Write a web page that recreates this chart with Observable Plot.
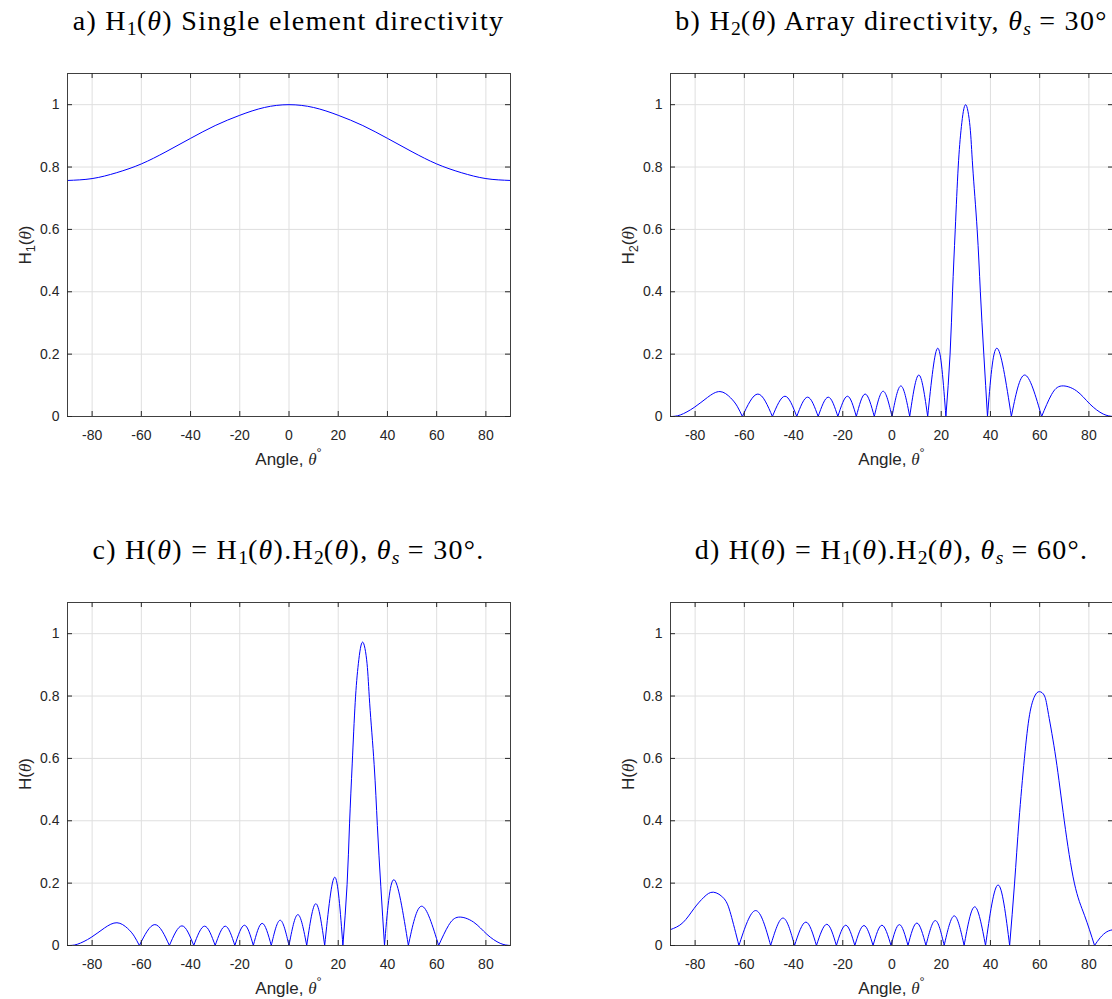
<!DOCTYPE html>
<html>
<head>
<meta charset="utf-8">
<script src="https://cdn.jsdelivr.net/npm/d3@7"></script>
<script src="https://cdn.jsdelivr.net/npm/@observablehq/plot@0.6"></script>
<style>
  body { margin: 0; background: #fff; }
  #root { position: relative; width: 1112px; height: 999px; overflow: hidden; background: #fff; }
  .panel { position: absolute; width: 556px; }
  .panel svg { max-width: none !important; }
  .title { position: absolute; width: 700px; text-align: center; font-family: "Liberation Serif", "DejaVu Serif", serif; font-size: 28px; letter-spacing: 1.3px; line-height: 34px; color: #000; white-space: nowrap; }
  .title sub { font-size: 70%; vertical-align: -0.25em; line-height: 0; letter-spacing: 0; }
  .xlab { position: absolute; width: 300px; text-align: center; font-family: "Liberation Sans", Arial, sans-serif; font-size: 17px; line-height: 20px; color: #262626; white-space: nowrap; }
  .ylab { position: absolute; font-family: "Liberation Sans", Arial, sans-serif; font-size: 17px; line-height: 20px; color: #262626; white-space: nowrap; transform: translate(-50%, -50%) rotate(-90deg); }
  .ylab sub { font-size: 75%; vertical-align: -0.3em; line-height: 0; }
  .th { font-family: "Liberation Serif", serif; font-style: italic; }
  .deg { font-size: 75%; vertical-align: 0.6em; line-height: 0; }
</style>
</head>
<body>
<div id="root"></div>
<script>
// ---- tick values ----
const xTicks = [-80, -60, -40, -20, 0, 20, 40, 60, 80];
const yTicks = [0, 0.2, 0.4, 0.6, 0.8, 1];

// ---- a) H1(theta), single element ----
const h1Angle = [-90, -80, -70, -60, -50, -40, -30, -20, -10, 0, 10, 20, 30, 40, 50, 60, 70, 80, 90];
const h1Value = [0.757, 0.763, 0.782, 0.810, 0.849, 0.892, 0.933, 0.966, 0.991, 1.0, 0.991, 0.966, 0.933, 0.892, 0.849, 0.810, 0.782, 0.763, 0.757];

// ---- b) H2(theta), array, steer 30 ----
const h2Angle = [-90, -86, -80.4, -75, -69.9, -65.6, -62.9, -60.8, -54.5, -48.6, -43.5, -38.7, -34.3, -30, -25.9, -22, -18.1, -14.5, -10.9, -7.2, -3.6, 0, 3.6, 7.2, 10.9, 14.5, 18.6, 21.9,
  23.6, 24.6, 25.7, 26.9, 28.2, 29.9, 31.7, 32.8, 34.6, 35.9, 37.3, 38.8, 42.6, 48.5, 53.9, 60.8, 64.8, 68.9, 75, 80.4, 85.8, 90];
const h2Value = [0, 0.005, 0.029, 0.061, 0.080, 0.060, 0.033, 0, 0.072, 0, 0.065, 0, 0.062, 0, 0.062, 0, 0.065, 0, 0.072, 0, 0.081, 0, 0.098, 0, 0.133, 0, 0.219, 0,
  0.2, 0.4, 0.6, 0.8, 0.93, 1.0, 0.93, 0.8, 0.6, 0.4, 0.2, 0, 0.219, 0, 0.133, 0, 0.070, 0.098, 0.082, 0.040, 0.008, 0];

// ---- c) H = H1.H2, steer 30 ----
const h30Angle = [-90, -86, -80.4, -75, -69.9, -65.6, -62.9, -60.8, -54.5, -48.6, -43.5, -38.7, -34.3, -30, -25.9, -22, -18.1, -14.5, -10.9, -7.2, -3.6, 0, 3.6, 7.2, 10.9, 14.5, 18.6, 21.9,
  23.6, 24.6, 25.7, 26.9, 28.2, 29.9, 31.7, 32.8, 34.6, 35.9, 37.3, 38.8, 42.6, 48.5, 53.9, 60.8, 64.8, 68.9, 75, 80.4, 85.8, 90];
const h30Value = [0, 0.004, 0.026, 0.056, 0.073, 0.055, 0.030, 0, 0.067, 0, 0.063, 0, 0.062, 0, 0.062, 0, 0.065, 0, 0.071, 0, 0.081, 0, 0.099, 0, 0.134, 0, 0.219, 0,
  0.195, 0.39, 0.585, 0.78, 0.905, 0.973, 0.905, 0.775, 0.58, 0.385, 0.19, 0, 0.211, 0, 0.126, 0, 0.064, 0.091, 0.075, 0.036, 0.007, 0];

// ---- d) H = H1.H2, steer 60 ----
const h60Angle = [-90, -85, -80.4, -76.4, -72.6, -68.2, -65.5, -62.2, -55.4, -49.3, -44.3, -39.6, -35.0, -30.7, -26.5, -22.6, -18.8, -15.1, -11.4, -7.7, -4.1, -0.4, 3.0, 6.5, 10.1, 13.8, 17.6, 21.2, 25.3, 29.3, 33.6, 38.0, 43.1, 47.8,
  49.8, 51.6, 53.8, 55.9, 58.0, 59.9, 62.0, 63.6, 66.6, 70.0, 74.1, 78.2, 82.3, 84.6, 87.3, 90];
const h60Value = [0.051, 0.073, 0.119, 0.155, 0.171, 0.150, 0.100, 0, 0.112, 0, 0.088, 0, 0.075, 0, 0.068, 0, 0.065, 0, 0.064, 0, 0.065, 0, 0.067, 0, 0.072, 0, 0.080, 0, 0.095, 0, 0.124, 0, 0.194, 0,
  0.2, 0.4, 0.6, 0.74, 0.8, 0.814, 0.8, 0.741, 0.6, 0.4, 0.2, 0.097, 0, 0.025, 0.044, 0.051];

// ---- layout ----
const W = 556, H = 396, mL = 67, mR = 46, mT = 23, mB = 30;
const fw = W - mL - mR, fh = H - mT - mB;
const axisColor = "#262626";

// split a trace into lobes at its nulls, each null shared by both neighbours
function lobes(angles, values) {
  const out = [];
  let k = 0;
  angles.forEach((a, i) => {
    out.push({x: a, y: values[i], lobe: k});
    if (values[i] === 0 && i > 0 && i < angles.length - 1) {
      k++;
      out.push({x: a, y: values[i], lobe: k});
    }
  });
  return out;
}

function panel(angles, values) {
  const data = lobes(angles, values);
  return Plot.plot({
    width: W, height: H,
    marginLeft: mL, marginRight: mR, marginTop: mT, marginBottom: mB,
    style: {fontFamily: "'Liberation Sans', Arial, sans-serif", fontSize: "14px", color: axisColor, background: "transparent", overflow: "visible", maxWidth: "none"},
    x: {domain: [-90, 90]},
    y: {domain: [0, 1.1]},
    marks: [
      Plot.ruleX(xTicks, {x: d => d, stroke: "#dfdfdf"}),
      Plot.ruleY(yTicks, {y: d => d, stroke: "#dfdfdf"}),
      Plot.line(data, {x: "x", y: "y", z: "lobe", stroke: "#0000ff", strokeWidth: 1, curve: "natural", clip: "frame"}),
      Plot.frame({stroke: "#404040", strokeWidth: 1}),
      Plot.tickX(xTicks, {x: d => d, stroke: axisColor, insetTop: fh - 5}),
      Plot.tickX(xTicks, {x: d => d, stroke: axisColor, insetBottom: fh - 5}),
      Plot.tickY(yTicks, {y: d => d, stroke: axisColor, insetRight: fw - 5}),
      Plot.tickY(yTicks, {y: d => d, stroke: axisColor, insetLeft: fw - 5}),
      Plot.axisX(xTicks, {tickSize: 0, tickPadding: 14, tickFormat: d => String(d), label: null, fontSize: 14}),
      Plot.axisY(yTicks, {tickSize: 0, tickPadding: 8, tickFormat: d => String(d), label: null, fontSize: 14})
    ]
  });
}

const root = document.getElementById("root");
const panels = [
  {left: 0,   top: 50,  angles: h1Angle,  values: h1Value,
   title: 'a) H<sub>1</sub>(<i>θ</i>) Single element directivity',
   ylab: 'H<sub>1</sub>(<span class="th">θ</span>)'},
  {left: 603, top: 50,  angles: h2Angle,  values: h2Value,
   title: 'b) H<sub>2</sub>(<i>θ</i>) Array directivity, <i>θ</i><sub><i>s</i></sub> = 30°',
   ylab: 'H<sub>2</sub>(<span class="th">θ</span>)'},
  {left: 0,   top: 579, angles: h30Angle, values: h30Value,
   title: 'c) H(<i>θ</i>) = H<sub>1</sub>(<i>θ</i>).H<sub>2</sub>(<i>θ</i>), <i>θ</i><sub><i>s</i></sub> = 30°.',
   ylab: 'H(<span class="th">θ</span>)'},
  {left: 603, top: 579, angles: h60Angle, values: h60Value,
   title: 'd) H(<i>θ</i>) = H<sub>1</sub>(<i>θ</i>).H<sub>2</sub>(<i>θ</i>), <i>θ</i><sub><i>s</i></sub> = 60°.',
   ylab: 'H(<span class="th">θ</span>)'}
];

panels.forEach(p => {
  const div = document.createElement("div");
  div.className = "panel";
  div.style.left = p.left + "px";
  div.style.top = p.top + "px";
  div.appendChild(panel(p.angles, p.values));
  root.appendChild(div);

  const cx = p.left + mL + fw / 2;
  const t = document.createElement("div");
  t.className = "title";
  t.style.left = (cx - 350) + "px";
  t.style.top = (p.top - 46) + "px";
  t.innerHTML = p.title;
  root.appendChild(t);

  const xl = document.createElement("div");
  xl.className = "xlab";
  xl.style.left = (cx - 150) + "px";
  xl.style.top = (p.top + mT + fh + 34) + "px";
  xl.innerHTML = 'Angle, <span class="th">θ</span><span class="deg">°</span>';
  root.appendChild(xl);

  const yl = document.createElement("div");
  yl.className = "ylab";
  yl.style.left = (p.left + 26) + "px";
  yl.style.top = (p.top + mT + fh / 2) + "px";
  yl.innerHTML = p.ylab;
  root.appendChild(yl);
});
</script>
</body>
</html>
